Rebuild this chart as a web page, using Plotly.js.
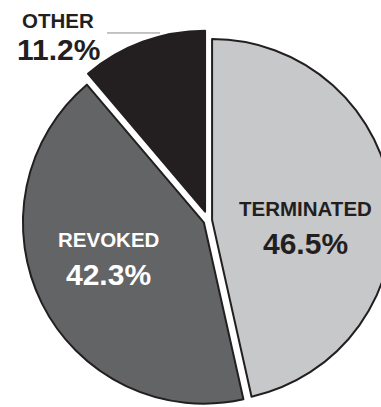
<!DOCTYPE html>
<html>
<head>
<meta charset="utf-8">
<script src="https://cdn.plot.ly/plotly-3.0.1.min.js"></script>
<style>
  html, body { margin: 0; padding: 0; background: #ffffff; overflow: hidden; width: 381px; height: 407px; }
  #chart { position: absolute; left: 0; top: 0; }
</style>
</head>
<body>
<div id="chart"></div>
<script>
// ---- data ----
const labels = ['TERMINATED', 'REVOKED', 'OTHER'];
const values = [46.5, 42.3, 11.2];
const sliceColors = ['#c7c8ca', '#636466', '#231f20'];
const textColors = ['#231f20', '#ffffff', '#231f20'];
const pulls = [0.021, 0.027, 0.052];

// ---- layout geometry (pixels) ----
const W = 420, H = 441.4;
const px = x => x / W;
const py = y => 1 - y / H;

const labelPos = [ [305.8, 209.0, 243.8], [108.8, 239.5, 274.3], [58.3, 20.6, 49.6] ];

const annotations = [];
labels.forEach((lab, i) => {
  const [cx, ly, vy] = labelPos[i];
  annotations.push({
    text: '<b>' + lab + '</b>', x: px(cx), y: py(ly), xref: 'paper', yref: 'paper',
    xanchor: 'center', yanchor: 'middle', showarrow: false,
    font: { family: 'Liberation Sans, Arial, sans-serif', size: 20.5, color: textColors[i] }
  });
  annotations.push({
    text: '<b>' + values[i].toFixed(1) + '%</b>', x: px(cx), y: py(vy), xref: 'paper', yref: 'paper',
    xanchor: 'center', yanchor: 'middle', showarrow: false,
    font: { family: 'Liberation Sans, Arial, sans-serif', size: 30, color: textColors[i] }
  });
});

const trace = {
  type: 'pie',
  labels: labels,
  values: values,
  sort: false,
  direction: 'clockwise',
  rotation: 0,
  pull: pulls,
  textinfo: 'none',
  hoverinfo: 'none',
  marker: { colors: sliceColors, line: { color: '#231f20', width: 2 } },
  domain: { x: [0.04262, 0.94929], y: [0, 1] },
  showlegend: false
};

const layout = {
  width: W, height: H,
  margin: { l: 0, r: 0, t: 0, b: 0, pad: 0 },
  paper_bgcolor: '#ffffff',
  showlegend: false,
  annotations: annotations,
  shapes: [{
    type: 'line', xref: 'paper', yref: 'paper',
    x0: px(107), x1: px(160), y0: py(33), y1: py(33),
    line: { color: '#8a8a8a', width: 1 }, layer: 'below'
  }]
};

Plotly.newPlot('chart', [trace], layout, { displayModeBar: false, staticPlot: true });
</script>
</body>
</html>
